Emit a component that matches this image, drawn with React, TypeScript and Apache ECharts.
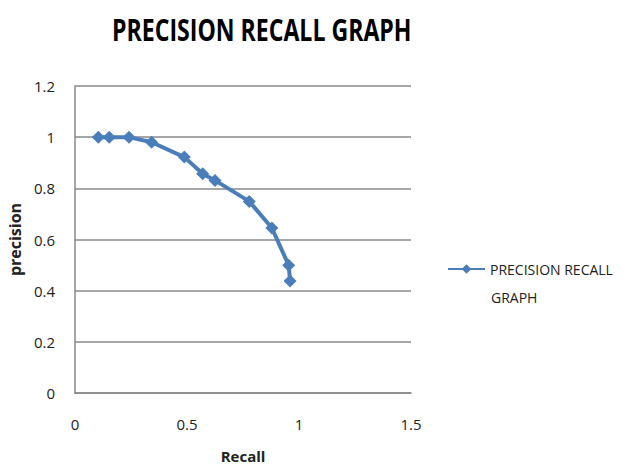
import React, { useEffect, useRef } from "react";
import * as echarts from "echarts";

const seriesName = "PRECISION RECALL GRAPH";
const titleText = "PRECISION RECALL GRAPH";
const recall = [0.104, 0.153, 0.241, 0.342, 0.488, 0.57, 0.625, 0.778, 0.879, 0.954, 0.96];
const precision = [1.0, 1.0, 1.0, 0.98, 0.922, 0.857, 0.831, 0.749, 0.645, 0.499, 0.438];

const FONT = "'Open Sans', sans-serif";

export default function App() {
  const ref = useRef<HTMLDivElement>(null);
  useEffect(() => {
    if (!ref.current) return;
    const chart = echarts.init(ref.current, null, { renderer: "svg" });
    chart.setOption({
      animation: false,
      backgroundColor: "#fff",
      textStyle: { fontFamily: FONT },
      graphic: [
        {
          type: "text",
          x: 112,
          y: 14,
          scaleX: 0.745,
          style: {
            text: titleText,
            fontFamily: FONT,
            fontSize: 31,
            fontWeight: "bold",
            fill: "#000",
            textAlign: "left",
            textVerticalAlign: "top",
          },
        },
        {
          type: "text",
          x: 491,
          y: 297,
          style: {
            text: "GRAPH",
            fontFamily: FONT,
            fontSize: 14,
            fill: "#222",
            textAlign: "left",
            textVerticalAlign: "middle",
          },
        },
      ],
      legend: {
        left: 442,
        top: 257,
        itemWidth: 37,
        itemHeight: 12,
        data: [seriesName],
        formatter: () => "PRECISION RECALL",
        textStyle: { fontFamily: FONT, fontSize: 14, color: "#222" },
      },
      grid: { left: 75, right: 217, top: 86, bottom: 75, outerBoundsMode: "none", containLabel: false },
      xAxis: {
        type: "value",
        min: 0,
        max: 1.5,
        interval: 0.5,
        name: "Recall",
        nameLocation: "middle",
        nameGap: 55,
        nameTextStyle: { fontFamily: FONT, fontSize: 15, fontWeight: "bold", color: "#222" },
        axisLine: { show: true, lineStyle: { color: "#888", width: 1.5 } },
        axisTick: { show: false },
        splitLine: { show: false },
        axisLabel: { margin: 23, fontFamily: FONT, fontSize: 15, color: "#222" },
      },
      yAxis: {
        type: "value",
        min: 0,
        max: 1.2,
        interval: 0.2,
        name: "precision",
        nameLocation: "middle",
        nameRotate: 90,
        nameGap: 52,
        nameTextStyle: { fontFamily: FONT, fontSize: 16, fontWeight: "bold", color: "#222" },
        axisLine: { show: true, lineStyle: { color: "#888", width: 1.5 } },
        axisTick: { show: false },
        splitLine: { show: true, lineStyle: { color: "#888", width: 1.5 } },
        axisLabel: { margin: 20, fontFamily: FONT, fontSize: 15, color: "#222" },
      },
      series: [
        {
          name: seriesName,
          type: "line",
          data: recall.map((r, i) => [r, precision[i]]),
          symbol: "diamond",
          symbolSize: 13,
          lineStyle: { color: "#4A7EBB", width: 4 },
          itemStyle: { color: "#4A7EBB" },
        },
      ],
    });
    return () => chart.dispose();
  }, []);
  return <div ref={ref} style={{ width: 628, height: 468, position: "absolute", left: 0, top: 0 }} />;
}
